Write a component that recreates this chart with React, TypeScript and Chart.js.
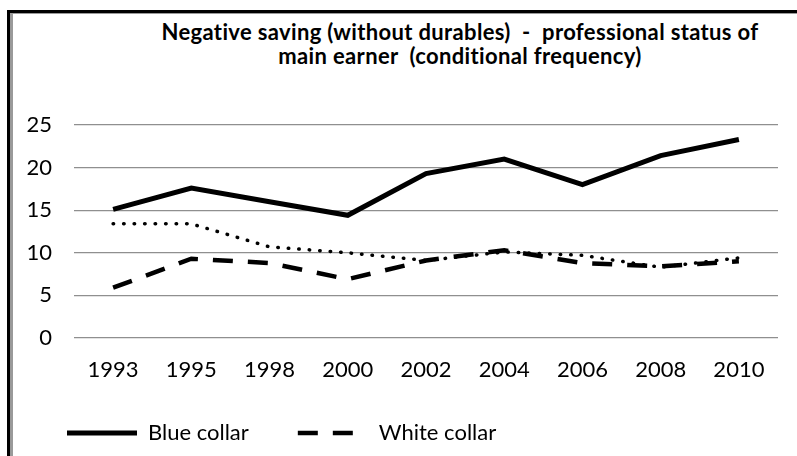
import React, { useEffect, useRef } from "react";
import { Chart, registerables } from "chart.js";

Chart.register(...registerables);

const categories = ["1993", "1995", "1998", "2000", "2002", "2004", "2006", "2008", "2010"];
const blueCollar = [15.1, 17.6, 16.0, 14.4, 19.3, 21.0, 18.0, 21.4, 23.3];
const whiteCollar = [5.9, 9.3, 8.8, 6.9, 9.1, 10.3, 8.8, 8.4, 9.0];
const selfEmployed = [13.4, 13.4, 10.7, 10.0, 9.1, 10.1, 9.7, 8.3, 9.4];
const seriesNames = ["Blue collar", "White collar", "Self-employed"];
const yMin = 0;
const yMax = 25;
const yStep = 5;
const titleLines = [
  "Negative saving (without durables)  -  professional status of",
  "main earner  (conditional frequency)",
];

const FONT = "Lato, 'Open Sans', sans-serif";
const DASH = [20, 15];

export default function App() {
  const canvasRef = useRef<HTMLCanvasElement | null>(null);

  useEffect(() => {
    if (!canvasRef.current) return;
    const chart = new Chart(canvasRef.current, {
      type: "line",
      data: {
        labels: categories,
        datasets: [
          {
            label: seriesNames[0],
            data: blueCollar,
            borderColor: "#000",
            backgroundColor: "#000",
            borderWidth: 5,
            pointRadius: 0,
            tension: 0,
            fill: false,
          },
          {
            label: seriesNames[1],
            data: whiteCollar,
            borderColor: "#000",
            backgroundColor: "#000",
            borderWidth: 4.5,
            borderDash: DASH,
            pointRadius: 0,
            tension: 0,
            fill: false,
          },
          {
            label: seriesNames[2],
            data: selfEmployed,
            borderColor: "#000",
            backgroundColor: "#000",
            borderWidth: 3.5,
            borderDash: [0.5, 10],
            borderCapStyle: "round",
            pointRadius: 0,
            tension: 0,
            fill: false,
          },
        ],
      },
      options: {
        animation: false,
        responsive: true,
        maintainAspectRatio: false,
        layout: { padding: { left: 18, right: 19, top: 125, bottom: 2 } },
        plugins: {
          title: { display: false },
          tooltip: { enabled: false },
          legend: {
            position: "bottom",
            align: "start",
            labels: {
              usePointStyle: true,
              pointStyle: "line",
              pointStyleWidth: 70,
              padding: 49,
              color: "#000",
              font: { family: FONT, size: 22 },
              generateLabels: (c: any) => {
                const base = (Chart.defaults.plugins.legend.labels as any).generateLabels(c);
                return base
                  .filter((l: any) => l.datasetIndex < 2)
                  .map((l: any) => {
                    const ds: any = c.data.datasets[l.datasetIndex];
                    return {
                      ...l,
                      pointStyle: "line",
                      lineDash: ds.borderDash || [],
                      lineWidth: ds.borderWidth,
                      lineCap: "butt",
                      strokeStyle: ds.borderColor,
                    };
                  });
              },
            },
          },
        },
        scales: {
          x: {
            offset: true,
            grid: { display: false, drawTicks: false },
            border: { display: false },
            ticks: { color: "#000", padding: 19, font: { family: FONT, size: 22 } },
            afterFit: (scale: any) => {
              scale.height = 35;
              scale._computeLabelArea = () => undefined;
            },
          },
          y: {
            min: yMin,
            max: yMax,
            grid: { color: "#8f8f8f", lineWidth: 1.2, drawTicks: false },
            border: { display: false },
            ticks: { stepSize: yStep, color: "#000", padding: 22, font: { family: FONT, size: 22 } },
            afterFit: (scale: any) => {
              scale.width = 56;
            },
          },
        },
      },
    });
    return () => chart.destroy();
  }, []);

  return (
    <div
      style={{
        position: "fixed",
        left: 0,
        top: 0,
        width: 797,
        height: 456,
        overflow: "hidden",
        background: "#fff",
      }}
    >
      <div
        style={{
          position: "absolute",
          left: 7,
          top: 10,
          width: 900,
          height: 600,
          borderLeft: "3px solid #000",
          borderTop: "3px solid #000",
        }}
      />
      <div
        style={{
          position: "absolute",
          left: 10,
          top: 13,
          width: 900,
          height: 600,
          borderLeft: "3px solid #9a9a9a",
          borderTop: "1px solid #9a9a9a",
        }}
      />
      <div
        style={{
          position: "absolute",
          left: 110,
          top: 20,
          width: 700,
          textAlign: "center",
          fontFamily: FONT,
          fontWeight: "bold",
          fontSize: 22,
          letterSpacing: "0.35px",
          lineHeight: "24px",
          whiteSpace: "pre",
          color: "#000",
        }}
      >
        {titleLines.map((t, i) => (
          <div key={i}>{t}</div>
        ))}
      </div>
      <div style={{ position: "absolute", left: 0, top: 0, width: 797, height: 456 }}>
        <canvas ref={canvasRef} />
      </div>
    </div>
  );
}
